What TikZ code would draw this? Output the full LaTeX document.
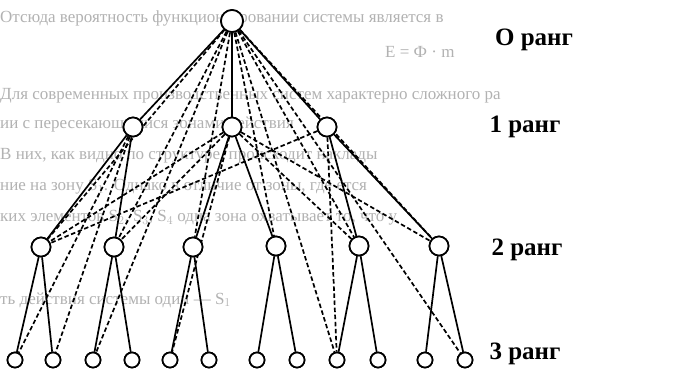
\documentclass[tikz,border=0pt]{standalone}
\usepackage{fontspec}
\setmainfont{Liberation Serif}
\begin{document}
\begin{tikzpicture}[x=1pt,y=-1pt,
  nd/.style={circle,draw=black,line width=1.7pt,fill=white,inner sep=0pt,minimum size=#1},
  sol/.style={line width=1.7pt,black},
  dsh/.style={line width=1.7pt,black,dash pattern=on 4.5pt off 2.6pt},
  rank/.style={font=\bfseries\fontsize{25}{25}\selectfont,inner sep=0pt},
  ghost/.style={font=\fontsize{17}{17}\selectfont,text=black!30,inner sep=0pt,anchor=west}]
\useasboundingbox (0,0) rectangle (673,368);
\fill[white] (0,0) rectangle (673,368);
% faint background text
\node[ghost] (g1) at (0,18) {Отсюда вероятность функциони-ровании системы является в};
\node[ghost] (g2) at (385,52) {E = Ф · m};
\node[ghost] (g3) at (0,96) {Для современных производственных систем характерно сложного ра};
\node[ghost] (g4) at (0,124) {ии с пересекающимися зонами действия};
\node[ghost] (g5) at (0,156) {В них, как видно по структуре, происходит наклады};
\node[ghost] (g6) at (0,187) {ние на зону S$_1$. Однако в отличие от зоны, где ется};
\node[ghost] (g7) at (0,218) {ких элементов S$_2$, S$_3$, S$_4$ одна зона охватывает то, что у};
\node[ghost] (g8) at (0,300) {ть действия системы один — S$_1$};
% nodes
\node[nd=22pt] (R) at (232,21) {};
\node[nd=19pt] (A) at (133,127) {};
\node[nd=19pt] (B) at (232,127) {};
\node[nd=19pt] (C) at (327,127) {};
\node[nd=19pt] (a) at (41,247) {};
\node[nd=19pt] (b) at (114,247) {};
\node[nd=19pt] (c) at (193,247) {};
\node[nd=19pt] (d) at (276,246) {};
\node[nd=19pt] (e) at (359,246) {};
\node[nd=19pt] (f) at (439,246) {};
\foreach \i/\x in {1/15,2/53,3/93,4/132,5/170,6/209,7/257,8/297,9/337,10/378,11/425,12/465}
  \node[nd=15pt] (t\i) at (\x,360) {};
% solid tree edges
\foreach \p/\q in {R/A,R/B,R/C,A/a,A/b,B/c,B/d,C/e,C/f,a/t1,a/t2,b/t3,b/t4,c/t5,c/t6,d/t7,d/t8,e/t9,e/t10,f/t11,f/t12}
  \draw[sol] (\p) -- (\q);
% dashed cross links
\foreach \p/\q in {R/a,R/b,R/c,R/d,R/e,R/f,R/t3,R/t9,R/t12,A/t1,A/t2,B/a,B/b,B/t5,B/e,B/f,C/t9,C/a}
  \draw[dsh] (\p) -- (\q);
% redraw nodes on top
\foreach \n/\s in {R/22pt,A/19pt,B/19pt,C/19pt,a/19pt,b/19pt,c/19pt,d/19pt,e/19pt,f/19pt}
  \node[nd=\s] at (\n) {};
\foreach \i in {1,...,12}
  \node[nd=15pt] at (t\i) {};
% rank labels
\node[rank] (r0) at (534,40) {О ранг};
\node[rank] (r1) at (525,127) {1 ранг};
\node[rank] (r2) at (527,250) {2 ранг};
\node[rank] (r3) at (525,354) {3 ранг};
\end{tikzpicture}
\end{document}
